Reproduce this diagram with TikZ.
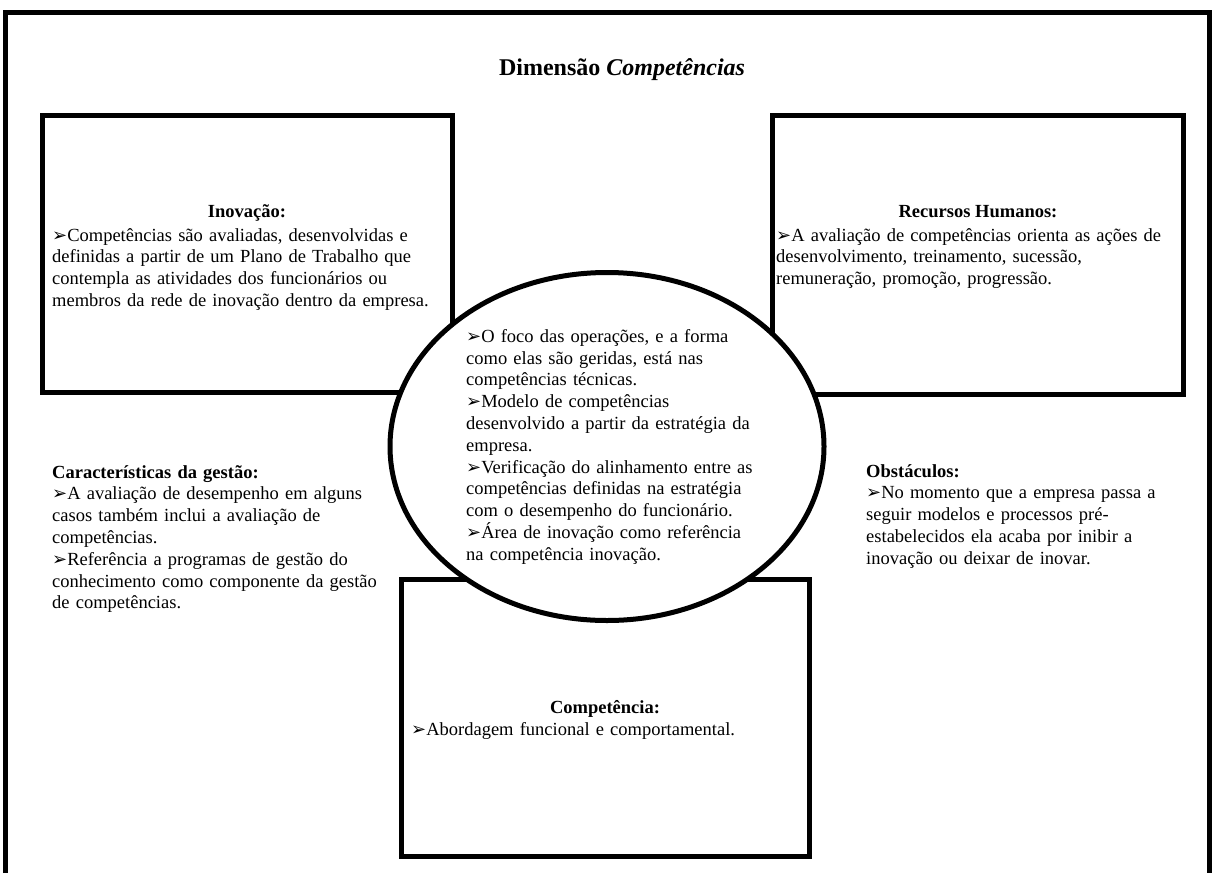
\documentclass[tikz,border=0pt]{standalone}
\usepackage{fontspec}
\setmainfont{Liberation Serif}
\newfontfamily\symfont{DejaVu Sans}
\usetikzlibrary{shapes.geometric}
\newcommand{\arr}{{\symfont\fontsize{18}{18}\selectfont ➢}}
\begin{document}
\begin{tikzpicture}[x=1pt,y=-1pt,
  box/.style={draw, line width=5pt, rectangle, inner sep=0pt, fill=white},
  txt/.style={anchor=base west, inner sep=0pt, align=left, text width=440pt,
    font=\fontsize{18.5}{21.8}\selectfont},
  ttl/.style={anchor=base, inner sep=0pt, font=\fontsize{18.5}{21.8}\selectfont\bfseries}]
\useasboundingbox (0,0) rectangle (1214,873);
\fill[white] (0,0) rectangle (1214,873);
% outer frame (open at the bottom)
\draw[line width=5pt] (5,873) -- (5,12.5) -- (1209,12.5) -- (1209,873);
\node[ttl, font=\fontsize{24}{28}\selectfont\bfseries] (title) at (622,75) {Dimensão \textit{Competências}};
% boxes
\node[box, minimum width=410pt, minimum height=276.5pt] (inov) at (247,253.75) {};
\node[box, minimum width=411pt, minimum height=279pt] (rh) at (977.5,255) {};
\node[box, minimum width=408pt, minimum height=277pt] (comp) at (605,717.5) {};
\node[draw, ellipse, line width=5pt, fill=white, inner sep=0pt,
  minimum width=434pt, minimum height=348pt] (centre) at (607,446.5) {};
% texts
\node[ttl] (inovT) at (247,217) {Inovação:};
\node[txt] (inovB) at (52,241) {\arr Competências são avaliadas, desenvolvidas e\\
definidas a partir de um Plano de Trabalho que\\
contempla as atividades dos funcionários ou\\
membros da rede de inovação dentro da empresa.};
\node[ttl] (rhT) at (978,217) {Recursos Humanos:};
\node[txt] (rhB) at (776,241) {\arr A avaliação de competências orienta as ações de\\
desenvolvimento, treinamento, sucessão,\\
remuneração, promoção, progressão.};
\node[txt] (centreB) at (466,342.3) {\arr O foco das operações, e a forma\\
como elas são geridas, está nas\\
competências técnicas.\\
\arr Modelo de competências\\
desenvolvido a partir da estratégia da\\
empresa.\\
\arr Verificação do alinhamento entre as\\
competências definidas na estratégia\\
com o desempenho do funcionário.\\
\arr Área de inovação como referência\\
na competência inovação.};
\node[txt] (gest) at (52,478) {\textbf{Características da gestão:}\\
\arr A avaliação de desempenho em alguns\\
casos também inclui a avaliação de\\
competências.\\
\arr Referência a programas de gestão do\\
conhecimento como componente da gestão\\
de competências.};
\node[txt] (obst) at (866,477) {\textbf{Obstáculos:}\\
\arr No momento que a empresa passa a\\
seguir modelos e processos pré-\\
estabelecidos ela acaba por inibir a\\
inovação ou deixar de inovar.};
\node[ttl] (compT) at (605,713) {Competência:};
\node[txt] (compB) at (411,735) {\arr Abordagem funcional e comportamental.};
\end{tikzpicture}
\end{document}
